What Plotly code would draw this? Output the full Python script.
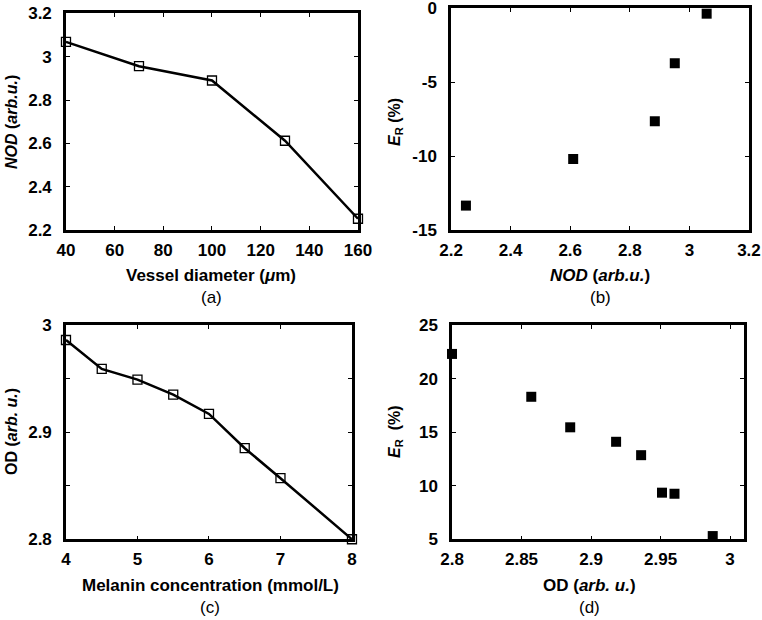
import plotly.graph_objects as go
from plotly.subplots import make_subplots

# (a) vessel diameter vs NOD
diameter = [40, 70, 100, 130, 160]
nod = [3.068, 2.956, 2.890, 2.612, 2.252]

# (b) NOD vs relative error
nod_b = [2.25, 2.61, 2.884, 2.951, 3.058]
er_b = [-13.35, -10.2, -7.65, -3.73, -0.38]

# (c) melanin concentration vs OD
melanin = [4, 4.5, 5, 5.5, 6, 6.5, 7, 8]
od = [2.986, 2.959, 2.949, 2.935, 2.917, 2.885, 2.857, 2.800]

# (d) OD vs relative error
od_d = [2.800, 2.857, 2.885, 2.918, 2.936, 2.951, 2.960, 2.9875]
er_d = [22.3, 18.3, 15.45, 14.1, 12.85, 9.35, 9.25, 5.3]

# tick labels
ticks_a_x = [40, 60, 80, 100, 120, 140, 160]
ticks_a_y = [2.2, 2.4, 2.6, 2.8, 3.0, 3.2]
ticks_b_x = [2.2, 2.4, 2.6, 2.8, 3.0, 3.2]
ticks_b_y = [-15, -10, -5, 0]
ticks_c_x = [4, 5, 6, 7, 8]
ticks_c_y = [2.8, 2.9, 3.0]
ticks_d_x = [2.8, 2.85, 2.9, 2.95, 3.0]
ticks_d_y = [5, 10, 15, 20, 25]

FONT = "Liberation Sans, Arial, sans-serif"


def fmt(v):
    s = f"{v:g}"
    return f"<b>{s}</b>"


fig = make_subplots(rows=2, cols=2)

line_style = dict(color="black", width=2.5)
open_sq = dict(symbol="square-open", size=9, color="black", line=dict(width=1.3))
filled_sq = dict(symbol="square", size=10, color="black")

fig.add_trace(go.Scatter(x=diameter, y=nod, mode="lines+markers", line=line_style,
                         marker=open_sq, cliponaxis=False), row=1, col=1)
fig.add_trace(go.Scatter(x=nod_b, y=er_b, mode="markers", marker=filled_sq,
                         cliponaxis=False), row=1, col=2)
fig.add_trace(go.Scatter(x=melanin, y=od, mode="lines+markers", line=line_style,
                         marker=open_sq, cliponaxis=False), row=2, col=1)
fig.add_trace(go.Scatter(x=od_d, y=er_d, mode="markers", marker=filled_sq,
                         cliponaxis=False), row=2, col=2)

axis_common = dict(
    showgrid=False, zeroline=False, showline=True, linecolor="black", linewidth=2.5,
    mirror="ticks", ticks="inside", ticklen=4, tickwidth=1, tickcolor="black",
    tickfont=dict(family=FONT, size=17, color="black"), automargin=False,
    ticklabeloverflow="allow",
)


def ax(domain, rng, vals, standoff, **kw):
    return dict(domain=domain, range=rng, tickvals=vals, ticktext=[fmt(v) for v in vals],
                ticklabelstandoff=standoff, **axis_common, **kw)


fig.update_layout(
    xaxis=ax([0.0866, 0.4698], [40, 160], ticks_a_x, 3),
    yaxis=ax([0.629, 0.9785], [2.2, 3.2], ticks_a_y, 8),
    xaxis2=ax([0.5919, 0.9829], [2.2, 3.2], ticks_b_x, 3),
    yaxis2=ax([0.629, 0.9870], [-15, 0], ticks_b_y, 8),
    xaxis3=ax([0.0866, 0.4619], [4, 8], ticks_c_x, 3),
    yaxis3=ax([0.1302, 0.4758], [2.8, 3.0], ticks_c_y, 8,
              minor=dict(dtick=0.05, ticks="inside", ticklen=4, tickcolor="black")),
    xaxis4=ax([0.5932, 0.9764], [2.8, 3.01], ticks_d_x, 3),
    yaxis4=ax([0.1302, 0.4758], [5, 25], ticks_d_y, 8),
)

title_font = dict(family=FONT, size=17, color="black")
ytitle_font = dict(family=FONT, size=16, color="black")
label_font = dict(family=FONT, size=17, color="black")

annotations = [
    # (a)
    dict(x=211, y=275, text="<b>Vessel diameter (<i>μ</i>m)</b>", font=title_font),
    dict(x=211, y=297, text="(a)", font=label_font),
    dict(x=11, y=122, text="<b><i>NOD</i> (<i>arb.u.</i>)</b>", font=ytitle_font, textangle=-90),
    # (b)
    dict(x=600, y=275, text="<b><i>NOD</i> (<i>arb.u.</i>)</b>", font=title_font),
    dict(x=600, y=297, text="(b)", font=label_font),
    dict(x=395, y=122, text="<b><i>E</i><sub>R</sub> (%)</b>", font=ytitle_font, textangle=-90),
    # (c)
    dict(x=210, y=585, text="<b>Melanin concentration (mmol/L)</b>", font=title_font),
    dict(x=210, y=607, text="(c)", font=label_font),
    dict(x=11, y=432, text="<b>OD (<i>arb. u.</i>)</b>", font=ytitle_font, textangle=-90),
    # (d)
    dict(x=589, y=585, text="<b>OD (<i>arb. u.</i>)</b>", font=title_font),
    dict(x=589, y=607, text="(d)", font=label_font),
    dict(x=395, y=432, text="<b><i>E</i><sub>R</sub>  (%)</b>", font=ytitle_font, textangle=-90),
]
for a in annotations:
    a["x"] = a["x"] / 762
    a["y"] = 1 - a["y"] / 620
    a.update(xref="paper", yref="paper", showarrow=False, xanchor="center", yanchor="middle")

fig.update_layout(
    annotations=annotations,
    width=762, height=620,
    margin=dict(l=0, r=0, t=0, b=0),
    paper_bgcolor="white", plot_bgcolor="white",
    showlegend=False,
    font=dict(family=FONT, color="black"),
)

# page has a default body margin; remove it so the figure fills the window
fig.write_html("out.html", config={"displayModeBar": False},
               post_script="document.body.style.margin='0';")
